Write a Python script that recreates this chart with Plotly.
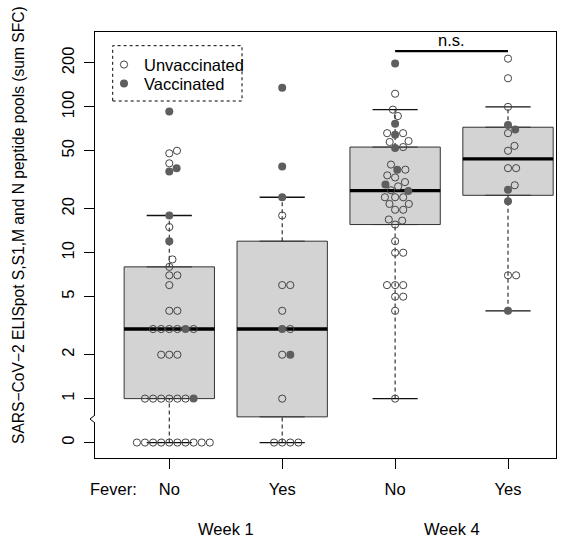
import math
import plotly.graph_objects as go

# ---------------- data ----------------
group_pos = [1, 2, 3, 4]
fever_ticktext = ["No", "Yes", "No", "Yes"]
week_text = ["Week 1", "Week 4"]
week_pos = [1.5, 3.5]
y_tickvals = [0.5, 1, 2, 5, 10, 20, 50, 100, 200]
y_ticktext = ["0", "1", "2", "5", "10", "20", "50", "100", "200"]
zero_plotted_as = 0.5

# sum SFC per participant; vaccinated flag: 0 = unvaccinated, 1 = vaccinated
w1_no_sfc = [0, 0, 0, 0, 0, 0, 0, 0, 0, 0,
             1, 1, 1, 1, 1, 1, 1,
             2, 2, 2,
             3, 3, 3, 3, 3, 3,
             4, 4, 6, 7, 7, 8, 9, 12, 15, 18, 36, 38, 41, 48, 50, 93]
w1_no_vac = [0, 0, 0, 0, 0, 0, 0, 0, 0, 0,
             0, 0, 0, 0, 0, 1, 0,
             0, 0, 0,
             0, 0, 0, 1, 0, 0,
             0, 0, 0, 0, 0, 0, 0, 1, 0, 1, 1, 1, 0, 0, 0, 1]

w1_yes_sfc = [0, 0, 0, 0, 1, 2, 2, 3, 3, 4, 6, 6, 18, 24, 39, 135]
w1_yes_vac = [0, 0, 0, 0, 0, 0, 1, 1, 0, 0, 0, 0, 0, 1, 1, 1]

w4_no_sfc = [1, 4, 5, 5, 6, 6, 6, 10, 10, 12,
             15.6, 16.6, 16.9, 19.7, 19.7, 21.6, 21.6, 24, 24, 24,
             26.5, 26.8, 28.5, 29.4, 30.5, 32.8, 33.9, 37.1, 37.1, 40.2,
             52.2, 53, 57.4, 58.3, 64.5, 66, 66, 76.7, 86.5, 95.7, 123, 198]
w4_no_vac = [0, 0, 0, 0, 0, 0, 0, 0, 0, 0,
             0, 0, 0, 0, 0, 0, 0, 0, 0, 0,
             1, 0, 0, 1, 0, 0, 0, 1, 0, 0,
             1, 0, 0, 0, 1, 0, 0, 1, 0, 0, 0, 1]

w4_yes_sfc = [4, 7, 7, 22.5, 27, 29, 38, 38, 50, 54, 66, 70, 75, 100, 157, 214]
w4_yes_vac = [1, 0, 0, 1, 1, 0, 0, 0, 0, 0, 0, 1, 1, 0, 0, 0]

groups_sfc = [w1_no_sfc, w1_yes_sfc, w4_no_sfc, w4_yes_sfc]
groups_vac = [w1_no_vac, w1_yes_vac, w4_no_vac, w4_yes_vac]

ns_groups = (3, 4)
ns_level = 241
ns_text = "n.s."

legend_names = ["Unvaccinated", "Vaccinated"]
y_title = "SARS\u2212CoV\u22122 ELISpot S,S1,M and N peptide pools (sum SFC)"

# ---------------- layout geometry ----------------
W, H = 571, 542
M = dict(l=95, r=15, t=32, b=84)
plot_w = W - M["l"] - M["r"]
plot_h = H - M["t"] - M["b"]
x_range = [0.342, 4.425]
y_range = [-0.407, 2.513]
px_per_x = plot_w / (x_range[1] - x_range[0])
px_per_dec = plot_h / (y_range[1] - y_range[0])
SWARM_PX = 8.1
BOX_W = 0.8
FONT = "Liberation Sans, Arial, Helvetica, sans-serif"
FS = 16.5


def px2paper_x(px):
    return (px - M["l"]) / plot_w


def px2paper_y(py):
    return (H - M["b"] - py) / plot_h


def fivenum(v):
    v = sorted(v)
    n = len(v)
    n4 = math.floor((n + 3) / 2) / 2
    d = [1, n4, (n + 1) / 2, n + 1 - n4, n]
    return [0.5 * (v[math.floor(i) - 1] + v[math.ceil(i) - 1]) for i in d]


def swarm_offsets(vals):
    """R beeswarm 'swarm' method (side=0, ascending priority), in pixel units."""
    xs = [math.log10(v) * px_per_dec / SWARM_PX for v in vals]
    order = sorted(range(len(xs)), key=lambda i: xs[i])
    placed = []
    out = [0.0] * len(xs)
    for idx in order:
        xi = xs[idx]
        pre = [p for p in placed if xi - p[0] < 1]
        if pre:
            pre = sorted(pre, key=lambda p: abs(p[1]))
            offs = [math.sqrt(max(0.0, 1 - (xi - p[0]) ** 2)) for p in pre]
            pot = [0.0] + [p[1] + o for p, o in zip(pre, offs)] + [p[1] - o for p, o in zip(pre, offs)]
            best = None
            for y in pot:
                bad = any((xi - p[0]) ** 2 + (y - p[1]) ** 2 < 0.999 for p in pre)
                if not bad and (best is None or abs(y) < abs(best)):
                    best = y
            out[idx] = best
        placed.append((xi, out[idx]))
    return [o * SWARM_PX / px_per_x for o in out]


fig = go.Figure()

open_x, open_y, fill_x, fill_y = [], [], [], []
for pos, sfc, vac in zip(group_pos, groups_sfc, groups_vac):
    vals = [v if v > 0 else zero_plotted_as for v in sfc]
    mn, q1, med, q3, mx = fivenum(vals)
    iqr = q3 - q1
    uw = max(v for v in vals if v <= q3 + 1.5 * iqr)
    lw = min(v for v in vals if v >= q1 - 1.5 * iqr)

    fig.add_trace(go.Box(x=[pos], q1=[q1], median=[med], q3=[q3],
                         lowerfence=[q1], upperfence=[q3], width=BOX_W,
                         fillcolor="#d3d3d3", line=dict(color="#333333", width=1),
                         boxpoints=False, showlegend=False, hoverinfo="skip"))
    fig.add_trace(go.Scatter(x=[pos, pos, None, pos, pos], y=[q3, uw, None, lw, q1],
                             mode="lines", line=dict(color="#222222", width=1.1, dash="4px,3px"),
                             showlegend=False, hoverinfo="skip"))
    fig.add_trace(go.Scatter(x=[pos - BOX_W / 4, pos + BOX_W / 4, None, pos - BOX_W / 4, pos + BOX_W / 4],
                             y=[uw, uw, None, lw, lw], mode="lines",
                             line=dict(color="#111111", width=1.3),
                             showlegend=False, hoverinfo="skip"))
    fig.add_trace(go.Scatter(x=[pos - BOX_W / 2, pos + BOX_W / 2], y=[med, med], mode="lines",
                             line=dict(color="black", width=3.3),
                             showlegend=False, hoverinfo="skip"))

    offs = swarm_offsets(vals)
    for v, o, f in zip(vals, offs, vac):
        if f:
            fill_x.append(pos + o)
            fill_y.append(v)
        else:
            open_x.append(pos + o)
            open_y.append(v)

fig.add_trace(go.Scatter(x=open_x, y=open_y, mode="markers", name=legend_names[0],
                         legend="legend",
                         marker=dict(symbol="circle-open", size=7.2, color="#444444",
                                     line=dict(width=1, color="#444444")),
                         hoverinfo="skip"))
fig.add_trace(go.Scatter(x=fill_x, y=fill_y, mode="markers", name=legend_names[1],
                         legend="legend2",
                         marker=dict(symbol="circle", size=8, color="#5e5e5e"),
                         hoverinfo="skip"))

# n.s. bracket
fig.add_trace(go.Scatter(x=list(ns_groups), y=[ns_level, ns_level], mode="lines",
                         line=dict(color="black", width=2.4), showlegend=False, hoverinfo="skip"))
fig.add_annotation(x=sum(ns_groups) / 2, y=math.log10(ns_level), xref="x", yref="y",
                   text=ns_text, showarrow=False, yanchor="bottom", yshift=0,
                   font=dict(family=FONT, size=FS, color="black"))

# x-axis extra labels
fig.add_annotation(x=px2paper_x(113), y=px2paper_y(489), xref="paper", yref="paper",
                   text="Fever:", showarrow=False, xanchor="center", yanchor="middle",
                   font=dict(family=FONT, size=FS, color="black"))
for wp, wt in zip(week_pos, week_text):
    fig.add_annotation(x=wp, y=px2paper_y(529), xref="x", yref="paper", text=wt,
                       showarrow=False, yanchor="middle",
                       font=dict(family=FONT, size=FS, color="black"))

# y-axis title
fig.add_annotation(x=px2paper_x(18), y=px2paper_y(225), xref="paper", yref="paper",
                   text=y_title, textangle=-90, showarrow=False,
                   xanchor="center", yanchor="middle",
                   font=dict(family=FONT, size=15.6, color="black"))

# legend dotted frame
fig.add_shape(type="rect", xref="paper", yref="paper",
              x0=px2paper_x(112.7), x1=px2paper_x(242), y0=px2paper_y(101), y1=px2paper_y(45.7),
              line=dict(color="black", width=1, dash="dot"))

# axis break marker on the left spine
fig.add_shape(type="rect", xref="paper", yref="paper", layer="above",
              x0=px2paper_x(93), x1=px2paper_x(97), y0=px2paper_y(423), y1=px2paper_y(415),
              line=dict(width=0), fillcolor="white")
fig.add_shape(type="path", xref="paper", yref="paper", layer="above",
              path=f"M {px2paper_x(95)} {px2paper_y(415)} L {px2paper_x(90)} {px2paper_y(419)} "
                   f"L {px2paper_x(95)} {px2paper_y(423)}",
              line=dict(color="black", width=1))

legend_common = dict(xanchor="left", yanchor="top", bgcolor="rgba(0,0,0,0)", borderwidth=0,
                     font=dict(family=FONT, size=FS, color="black"), itemwidth=30)

fig.update_layout(
    width=W, height=H, margin=M,
    paper_bgcolor="white", plot_bgcolor="white",
    font=dict(family=FONT, size=FS, color="black"),
    showlegend=True,
    legend=dict(x=px2paper_x(104), y=px2paper_y(47.3), **legend_common),
    legend2=dict(x=px2paper_x(104), y=px2paper_y(66.3), **legend_common),
    xaxis=dict(range=x_range, tickmode="array", tickvals=group_pos, ticktext=fever_ticktext,
               ticks="outside", ticklen=10, tickcolor="black", tickwidth=1,
               ticklabelstandoff=6,
               showline=True, linecolor="black", linewidth=1, mirror=True,
               showgrid=False, zeroline=False, tickfont=dict(size=FS), automargin=False),
    yaxis=dict(type="log", range=y_range, tickmode="array", tickvals=y_tickvals,
               ticktext=y_ticktext, tickangle=-90, ticks="outside", ticklen=10,
               ticklabelstandoff=3,
               tickcolor="black", tickwidth=1, showline=True, linecolor="black",
               linewidth=1, mirror=True, showgrid=False, zeroline=False,
               tickfont=dict(size=FS), automargin=False),
)

fig.write_html("out.html", config={"displayModeBar": False},
               post_script="document.body.style.margin='0px';")
